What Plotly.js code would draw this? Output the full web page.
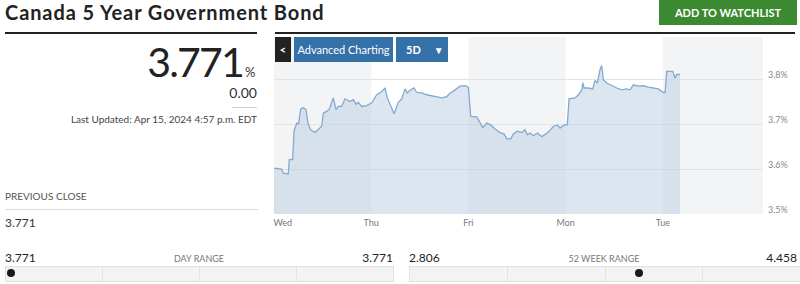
<!DOCTYPE html>
<html>
<head>
<meta charset="utf-8">
<script src="https://cdn.plot.ly/plotly-3.0.1.min.js"></script>
<style>
  html,body{margin:0;padding:0;background:#fff;}
  body{width:800px;height:284px;position:relative;overflow:hidden;font-family:Lato,"Open Sans",sans-serif;color:#222;}
  .abs{position:absolute;white-space:nowrap;}
  #chart{position:absolute;left:0;top:0;width:800px;height:284px;}
  .btn{position:absolute;top:37px;height:25px;line-height:25px;color:#fff;font-size:11px;text-align:center;z-index:5;}
  .seg{position:absolute;top:266px;height:16px;background:#f3f3f3;border:1px solid #e2e2e2;box-sizing:border-box;}
  .dot{position:absolute;width:8px;height:8px;border-radius:50%;background:#1a1a1a;top:269px;z-index:3;}
</style>
</head>
<body>
<div id="chart"></div>

<div class="abs" style="left:5px;top:0;font-size:20px;line-height:24px;font-weight:700;letter-spacing:0.9px;color:#222;">Canada 5 Year Government Bond</div>
<div class="abs" style="left:659px;top:0;width:138px;height:25px;background:#3b8a32;color:#fff;font-size:11px;font-weight:700;line-height:25px;text-align:center;">ADD TO WATCHLIST</div>

<div class="abs" style="left:5px;top:32px;width:252px;height:2px;background:#222;"></div>
<div class="abs" style="left:275px;top:32px;width:520px;height:2px;background:#222;"></div>

<div class="abs" id="last" style="left:0;top:37px;width:243px;text-align:right;font-size:41px;line-height:50px;letter-spacing:-1.8px;color:#222;"></div>
<div class="abs" style="left:245px;top:64px;font-size:13px;line-height:16px;color:#333;">%</div>
<div class="abs" id="chg" style="left:0;top:84px;width:257px;text-align:right;font-size:14px;line-height:17px;color:#333;"></div>
<div class="abs" style="left:232px;top:107px;width:25px;height:1px;background:#d0d0d0;"></div>
<div class="abs" style="left:0;top:113px;width:257px;text-align:right;font-size:10px;line-height:13px;color:#444;">Last Updated: Apr 15, 2024 4:57 p.m. EDT</div>

<div class="btn" style="left:275px;width:16px;background:#222;font-weight:700;">&lt;</div>
<div class="btn" style="left:294px;width:99px;background:#3471a8;">Advanced Charting</div>
<div class="btn" style="left:396px;width:52px;background:#3471a8;font-weight:700;text-align:left;"><span style="margin-left:10px;">5D</span><span style="margin-left:13px;font-size:10px;">&#9660;</span></div>

<div class="abs" style="left:5px;top:190px;font-size:10px;line-height:13px;color:#555;">PREVIOUS CLOSE</div>
<div class="abs" style="left:5px;top:209px;width:253px;height:1px;background:#dcdcdc;"></div>
<div class="abs" id="prev" style="left:5px;top:216px;font-size:12px;line-height:14px;color:#333;"></div>

<div class="abs" id="dayLo" style="left:5px;top:251px;font-size:12px;line-height:14px;color:#222;"></div>
<div class="abs" style="left:5px;top:253px;width:388px;text-align:center;font-size:9px;line-height:12px;color:#777;">DAY RANGE</div>
<div class="abs" id="dayHi" style="left:5px;top:251px;width:388px;text-align:right;font-size:12px;line-height:14px;color:#222;"></div>
<div class="abs" id="wkLo" style="left:409px;top:251px;font-size:12px;line-height:14px;color:#222;"></div>
<div class="abs" style="left:409px;top:253px;width:390px;text-align:center;font-size:9px;line-height:12px;color:#777;">52 WEEK RANGE</div>
<div class="abs" id="wkHi" style="left:409px;top:251px;width:388px;text-align:right;font-size:12px;line-height:14px;color:#222;"></div>
<div id="bars"></div>

<script>
// ---- values ----
var lastValue = 3.771;
var changeValue = 0.00;
var previousClose = 3.771;
var dayRange = [3.771, 3.771];
var weekRange52 = [2.806, 4.458];

var dayLabels = ["Wed", "Thu", "Fri", "Mon", "Tue"];
var yTickVals = [3.5, 3.6, 3.7, 3.8];
var yTickText = ["3.5%", "3.6%", "3.7%", "3.8%"];

// time in trading days since Wed open
var times = [0.000,0.079,0.096,0.147,0.157,0.192,0.206,0.234,0.252,0.275,0.301,0.329,0.353,0.378,0.422,0.466,0.491,
  0.507,0.542,0.569,0.594,0.610,0.638,0.662,0.696,0.730,0.782,0.816,0.844,0.867,0.902,0.954,
  1.005,1.057,1.108,1.142,1.166,1.201,1.235,1.279,1.314,1.348,1.371,1.399,1.440,1.468,1.520,1.571,1.622,1.674,1.725,1.777,1.811,1.838,1.872,1.914,1.965,1.999,
  2.024,2.085,2.112,2.147,2.188,2.229,2.274,2.325,2.366,2.394,2.435,2.462,2.503,2.548,2.582,2.606,2.634,2.668,2.709,2.754,2.798,2.840,2.874,2.915,2.942,2.984,
  3.017,3.035,3.097,3.131,3.166,3.176,3.189,3.233,3.279,3.302,3.326,3.354,3.371,3.388,3.423,3.474,3.526,3.577,3.628,3.663,3.697,3.748,3.799,3.851,3.902,3.954,
  4.005,4.023,4.040,4.074,4.102,4.126,4.143,4.177];
var yields = [3.602,3.600,3.591,3.589,3.621,3.621,3.684,3.702,3.700,3.733,3.736,3.732,3.698,3.687,3.681,3.691,3.695,
  3.724,3.728,3.733,3.747,3.758,3.732,3.739,3.739,3.756,3.750,3.754,3.744,3.748,3.739,3.741,
  3.747,3.765,3.772,3.780,3.758,3.739,3.723,3.748,3.756,3.778,3.769,3.775,3.780,3.770,3.769,3.765,3.763,3.760,3.758,3.761,3.769,3.772,3.778,3.784,3.785,3.782,
  3.717,3.716,3.706,3.692,3.702,3.698,3.689,3.681,3.678,3.667,3.667,3.678,3.684,3.681,3.687,3.676,3.680,3.674,3.680,3.672,3.678,3.686,3.695,3.698,3.691,3.698,
  3.698,3.756,3.758,3.765,3.775,3.792,3.780,3.780,3.778,3.797,3.791,3.821,3.830,3.798,3.791,3.785,3.780,3.776,3.778,3.776,3.787,3.784,3.785,3.782,3.780,3.778,
  3.770,3.770,3.817,3.817,3.817,3.802,3.810,3.810];

// ---- text fields ----
document.getElementById('last').textContent = lastValue.toFixed(3);
document.getElementById('chg').textContent = changeValue.toFixed(2);
document.getElementById('prev').textContent = previousClose.toFixed(3);
document.getElementById('dayLo').textContent = dayRange[0].toFixed(3);
document.getElementById('dayHi').textContent = dayRange[1].toFixed(3);
document.getElementById('wkLo').textContent = weekRange52[0].toFixed(3);
document.getElementById('wkHi').textContent = weekRange52[1].toFixed(3);

// ---- range bars ----
(function(){
  var bars = document.getElementById('bars');
  function makeBar(left, width, lo, hi, val){
    for (var i=0;i<4;i++){
      var s=document.createElement('div'); s.className='seg';
      s.style.left=(left+i*width/4)+'px'; s.style.width=(width/4+1)+'px';
      bars.appendChild(s);
    }
    var f = hi>lo ? (val-lo)/(hi-lo) : 0;
    var d=document.createElement('div'); d.className='dot';
    d.style.left=(left+2+f*(width-8))+'px';
    bars.appendChild(d);
  }
  makeBar(5, 388, dayRange[0], dayRange[1], lastValue);
  makeBar(409, 391, weekRange52[0], weekRange52[1], lastValue);
})();

// ---- chart ----
var xMax = 5.03;
var bandShapes = [];
[[0,1],[2,3],[4,xMax]].forEach(function(b){
  bandShapes.push({type:'rect', xref:'x', yref:'paper', x0:b[0], x1:b[1], y0:0, y1:1,
    fillcolor:'#f3f4f6', line:{width:0}, layer:'below'});
});

var trace = {
  x: times, y: yields, type:'scatter', mode:'lines',
  line:{color:'#84aacd', width:1.3},
  fill:'tozeroy', fillcolor:'rgba(190,210,228,0.55)',
  hoverinfo:'skip'
};

var layout = {
  width:800, height:284,
  margin:{l:274, r:37, t:37, b:70, pad:0},
  paper_bgcolor:'rgba(0,0,0,0)', plot_bgcolor:'rgba(0,0,0,0)',
  font:{family:'Lato, "Open Sans", sans-serif', color:'#777', size:9},
  showlegend:false,
  xaxis:{range:[0,xMax], showgrid:false, zeroline:false, showline:false, ticks:'',
    tickvals:[0.09,1,2,3,4], ticktext:dayLabels, tickfont:{size:9,color:'#777'}, ticklabelstandoff:2, fixedrange:true},
  yaxis:{range:[3.5,3.5+177/450], side:'right', showgrid:true, gridcolor:'#e2e3e5', gridwidth:1,
    zeroline:false, showline:false, ticks:'', tickvals:yTickVals, ticktext:yTickText,
    tickfont:{size:9,color:'#888'}, ticklabelstandoff:4, ticklabelshift:-4, fixedrange:true},
  shapes: bandShapes
};
Plotly.newPlot('chart', [trace], layout, {staticPlot:true, displayModeBar:false});
</script>
</body>
</html>
